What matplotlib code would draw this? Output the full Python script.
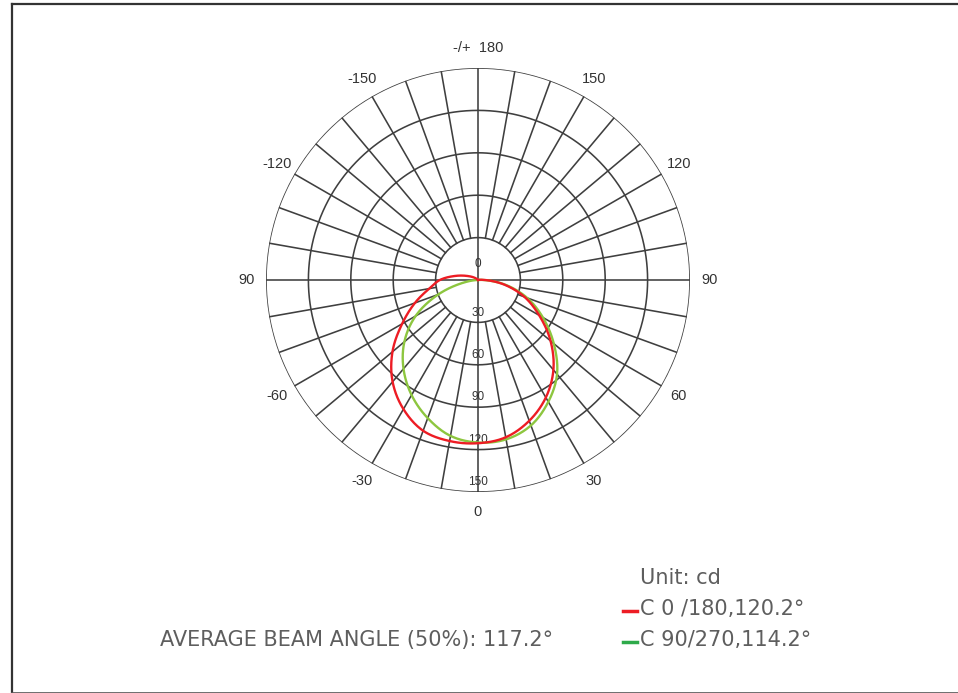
import numpy as np
import matplotlib.pyplot as plt
from matplotlib.lines import Line2D

# angles in degrees, 0 = straight down, positive to the right
angles = [-180, -170, -160, -150, -140, -130, -120, -110, -100, -90, -80, -70, -60,
          -50, -40, -30, -20, -10, 0, 10, 20, 30, 40, 50, 60, 70, 80, 90, 100,
          110, 120, 130, 140, 150, 160, 170, 180]
# C 0/180 plane (cd)
c0_180 = [0, 0, 0, 0, 0, 1.5, 4, 8.5, 16.5, 27, 35, 47.5, 62,
          79, 94, 105.5, 113.5, 115.7, 115.5, 113, 106, 96, 83, 67, 50, 35, 19, 5, 1,
          0, 0, 0, 0, 0, 0, 0, 0]
# C 90/270 plane (cd)
c90_270 = [0, 0, 0, 0, 0, 0, 0, 0, 0, 0, 10, 30, 51,
           68, 82, 94, 104, 112, 115, 114.5, 109.5, 99.5, 87, 70, 53, 37, 20, 4, 0,
           0, 0, 0, 0, 0, 0, 0, 0]

ring_values = [30, 60, 90, 120, 150]
angle_ticks = [0, 30, 60, 90, 120, 150, 180, -150, -120, -90, -60, -30]
angle_labels = ['0', '30', '60', '90', '120', '150', '-/+  180', '-150', '-120', '90', '-60', '-30']

grid_col = '#3f3f3f'
text_col = '#5e5e5e'


def smooth(ang, val, n=20):
    # periodic catmull-rom through the measured points, only for drawing
    a = np.deg2rad(np.asarray(ang[:-1], float))
    v = np.asarray(val[:-1], float)
    m = len(v)
    step = a[1] - a[0]
    t = np.linspace(0, 1, n, endpoint=False)
    th_out, r_out = [], []
    for i in range(m):
        p0, p1, p2, p3 = v[i - 1], v[i], v[(i + 1) % m], v[(i + 2) % m]
        r = 0.5 * (2 * p1 + (-p0 + p2) * t + (2 * p0 - 5 * p1 + 4 * p2 - p3) * t ** 2
                   + (-p0 + 3 * p1 - 3 * p2 + p3) * t ** 3)
        th_out.append(a[i] + step * t)
        r_out.append(r)
    th_out = np.concatenate(th_out + [[a[0] + 2 * np.pi]])
    r_out = np.clip(np.concatenate(r_out + [[v[0]]]), 0, None)
    return th_out, r_out


fig = plt.figure(figsize=(9.58, 6.93), dpi=100)
ax = fig.add_axes([266 / 958, 1 - 492 / 693, 424 / 958, 424 / 693], projection='polar')
ax.set_theta_zero_location('S')
ax.set_theta_direction(1)
ax.set_ylim(0, 150)
ax.grid(False)
ax.set_xticks([])
ax.set_yticks([])
ax.spines['polar'].set_visible(False)

# grid: rings and spokes
th = np.linspace(0, 2 * np.pi, 361)
for rv in ring_values:
    ax.plot(th, np.full_like(th, rv), color=grid_col, lw=1.15, zorder=1)
for a in range(0, 360, 10):
    t = np.deg2rad(a)
    r0 = 0 if a % 90 == 0 else 30
    ax.plot([t, t], [r0, 150], color=grid_col, lw=1.15, zorder=1)

# angle labels
for a, lab in zip(angle_ticks, angle_labels):
    ax.text(np.deg2rad(a), 164, lab, ha='center', va='center', fontsize=10.5,
            color='#333333', family='Liberation Sans', clip_on=False)

# radial labels
ax.text(np.pi, 11, '0', ha='center', va='center', fontsize=8.5, color='#333333',
        family='Liberation Sans')
for rv in ring_values:
    ax.text(0, rv - 7, str(rv), ha='center', va='center', fontsize=8.5,
            color='#333333', family='Liberation Sans')

# curves
th_g, r_g = smooth(angles, c90_270)
th_r, r_r = smooth(angles, c0_180)
ax.plot(th_g, r_g, color='#8dc63f', lw=1.7, zorder=3)
ax.plot(th_r, r_r, color='#ed1c24', lw=1.7, zorder=4)

# text block
fs = 15
fig.text(640 / 958, 1 - 578 / 693, 'Unit: cd', fontsize=fs, color=text_col,
         va='center', ha='left')
fig.text(640 / 958, 1 - 609 / 693, 'C 0 /180,120.2°', fontsize=fs, color=text_col,
         va='center', ha='left')
fig.text(640 / 958, 1 - 640 / 693, 'C 90/270,114.2°', fontsize=fs, color=text_col,
         va='center', ha='left')
fig.add_artist(Line2D([623 / 958, 637 / 958], [1 - 611 / 693] * 2, color='#ed1c24', lw=2.5))
fig.add_artist(Line2D([623 / 958, 637 / 958], [1 - 642 / 693] * 2, color='#2eaa4a', lw=2.5))
fig.text(160 / 958, 1 - 640 / 693, 'AVERAGE BEAM ANGLE (50%): 117.2°', fontsize=fs,
         color=text_col, va='center', ha='left')

# frame
fig.add_artist(Line2D([11.5 / 958, 11.5 / 958], [0, 1 - 3.5 / 693], color='#333333', lw=1.6))
fig.add_artist(Line2D([11.5 / 958, 1], [1 - 3.5 / 693] * 2, color='#333333', lw=1.6))
fig.add_artist(Line2D([11.5 / 958, 1], [0.5 / 693] * 2, color='#555555', lw=1.2))

fig.savefig('out.png', dpi=100, facecolor='white')
